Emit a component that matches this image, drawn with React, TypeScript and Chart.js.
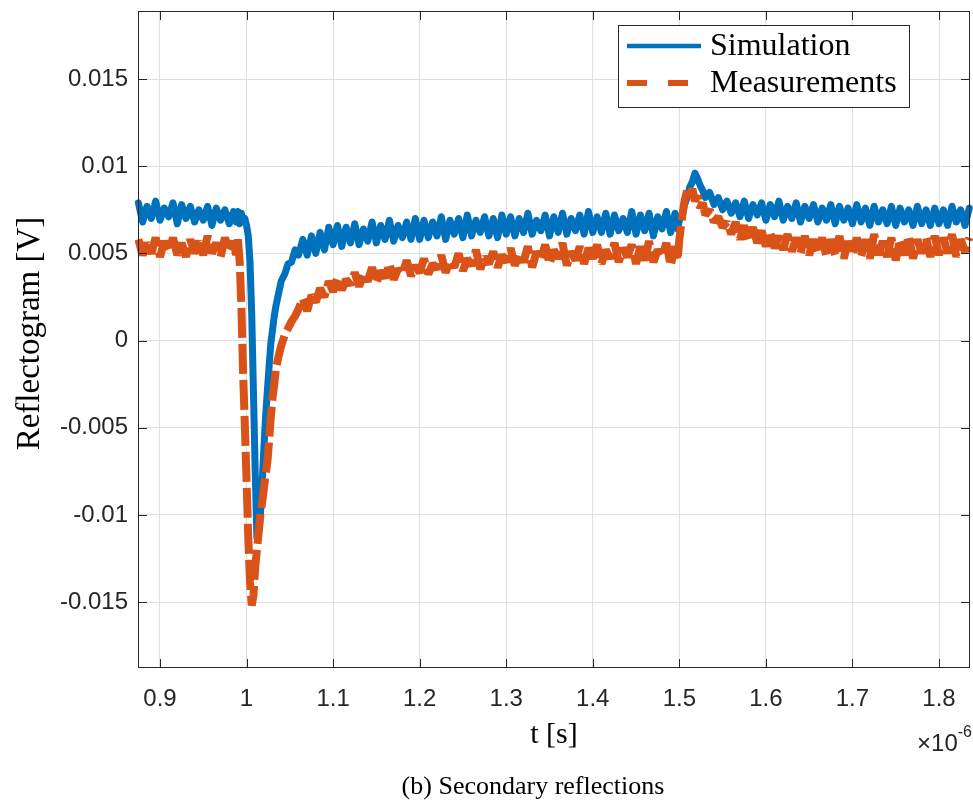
import React, { useEffect, useRef } from "react";
import { Chart, registerables } from "chart.js";

Chart.register(...registerables);

// time axis in microseconds (axis shows ×10^-6 s)
const tMicro = [
  0.875, 0.88, 0.885, 0.89, 0.895, 0.9, 0.905, 0.91, 0.915, 0.92, 0.925, 0.93, 0.935, 0.94, 0.945, 0.95, 0.955, 0.96, 0.965, 0.97, 0.975, 0.98, 0.985,
  0.988, 0.99, 0.992, 0.994, 0.996, 0.998, 1.0, 1.002, 1.004, 1.006, 1.008, 1.01, 1.012, 1.014, 1.016, 1.018, 1.02, 1.022, 1.024, 1.026, 1.028, 1.03, 1.032, 1.034, 1.037, 1.04, 1.044, 1.048, 1.052, 1.056, 1.06,
  1.065, 1.07, 1.075, 1.08, 1.085, 1.09, 1.095, 1.1,
  1.105, 1.11, 1.115, 1.12, 1.125, 1.13, 1.135, 1.14, 1.145, 1.15, 1.155, 1.16, 1.165, 1.17, 1.175, 1.18, 1.185, 1.19, 1.195, 1.2,
  1.205, 1.21, 1.215, 1.22, 1.225, 1.23, 1.235, 1.24, 1.245, 1.25, 1.255, 1.26, 1.265, 1.27, 1.275, 1.28, 1.285, 1.29, 1.295, 1.3,
  1.305, 1.31, 1.315, 1.32, 1.325, 1.33, 1.335, 1.34, 1.345, 1.35, 1.355, 1.36, 1.365, 1.37, 1.375, 1.38, 1.385, 1.39, 1.395, 1.4,
  1.405, 1.41, 1.415, 1.42, 1.425, 1.43, 1.435, 1.44, 1.445, 1.45, 1.455, 1.46, 1.465, 1.47, 1.475, 1.48, 1.485, 1.49, 1.495,
  1.498, 1.5, 1.503, 1.506, 1.509, 1.512, 1.515, 1.518, 1.521, 1.524, 1.527, 1.53, 1.535, 1.54, 1.545, 1.55, 1.555, 1.56,
  1.565, 1.57, 1.575, 1.58, 1.585, 1.59, 1.595, 1.6, 1.605, 1.61, 1.615,
  1.62, 1.625, 1.63, 1.635, 1.64, 1.645, 1.65, 1.655, 1.66,
  1.665, 1.67, 1.675, 1.68, 1.685, 1.69, 1.695, 1.7, 1.705,
  1.71, 1.715, 1.72, 1.725, 1.73, 1.735, 1.74, 1.745, 1.75,
  1.755, 1.76, 1.765, 1.77, 1.775, 1.78, 1.785, 1.79, 1.795,
  1.8, 1.805, 1.81, 1.815, 1.82, 1.825, 1.83, 1.835,
];

// Simulation, in mV
const simMilliV = [
  7.9, 6.8, 7.7, 7.0, 8.0, 6.9, 7.6, 7.1, 7.9, 6.7, 7.8, 7.0, 7.7, 6.8, 7.5, 6.9, 7.7, 6.6, 7.6, 6.9, 7.5, 6.7, 7.4,
  6.8, 7.4, 6.7, 7.3, 6.9, 7.0, 6.6, 6.0, 4.5, 1.5, -3.0, -7.5, -11.3, -10.9, -10.0, -8.2, -6.2, -4.4, -2.9, -1.5, -0.2, 0.6, 1.4, 2.0, 2.7, 3.4, 3.8, 4.4, 4.5, 5.2, 4.9,
  5.8, 4.9, 6.0, 5.0, 6.2, 5.2, 6.5, 5.5,
  6.6, 5.4, 6.5, 5.6, 6.7, 5.5, 6.4, 5.7, 6.8, 5.6, 6.6, 5.8, 6.9, 5.7, 6.6, 5.9, 6.8, 5.8, 7.0, 5.8,
  6.9, 5.9, 6.8, 6.0, 7.1, 5.8, 6.9, 6.1, 7.0, 5.9, 7.2, 6.0, 6.9, 6.2, 7.1, 6.0, 7.0, 5.9, 7.2, 6.1,
  7.1, 6.0, 7.0, 6.2, 7.3, 6.1, 6.9, 6.3, 7.2, 6.0, 7.1, 6.2, 7.3, 6.1, 7.0, 6.3, 7.2, 6.1, 7.4, 6.2,
  7.1, 6.2, 7.3, 6.1, 7.2, 6.3, 7.0, 6.2, 7.4, 6.1, 7.2, 6.3, 7.3, 6.0, 7.1, 6.4, 7.4, 6.2, 7.3,
  6.4, 6.9, 7.2, 7.8, 8.2, 8.8, 9.1, 9.6, 9.3, 8.9, 8.6, 8.2, 8.5, 7.8, 8.2, 7.5, 8.0, 7.3,
  7.9, 7.1, 8.0, 7.0, 7.8, 7.2, 7.9, 6.9, 7.8, 7.1, 8.0,
  6.9, 7.7, 7.0, 7.9, 6.8, 7.7, 7.0, 7.8, 6.8,
  7.6, 6.9, 7.8, 6.7, 7.7, 6.9, 7.6, 6.7, 7.8,
  6.8, 7.6, 6.6, 7.7, 6.8, 7.5, 6.7, 7.7, 6.6,
  7.6, 6.8, 7.5, 6.6, 7.7, 6.7, 7.5, 6.6, 7.6,
  6.7, 7.5, 6.6, 7.7, 6.8, 7.5, 6.6, 7.6,
];

// Measurements, in mV
const measMilliV = [
  5.8, 4.9, 5.6, 5.0, 5.9, 4.8, 5.7, 5.1, 5.9, 4.9, 5.6, 4.8, 5.8, 5.0, 5.7, 4.9, 6.0, 5.0, 5.6, 4.8, 5.9, 5.1, 5.7,
  4.9, 5.8, 4.6, 2.0, -1.8, -4.8, -8.0, -11.3, -13.8, -15.2, -14.6, -13.0, -12.0, -11.0, -10.0, -9.3, -8.5, -7.7, -7.0, -5.8, -4.4, -3.3, -2.5, -1.6, -0.9, -0.3, 0.3, 0.7, 1.1, 1.4, 1.8,
  2.4, 1.7, 2.6, 2.2, 3.0, 2.5, 3.4, 2.8,
  3.6, 2.9, 3.5, 3.2, 3.9, 3.1, 3.8, 3.4, 4.2, 3.3, 4.0, 3.6, 4.4, 3.5, 4.1, 3.8, 4.6, 3.7, 4.3, 3.9,
  4.7, 3.8, 4.4, 4.1, 4.9, 3.9, 4.6, 4.2, 5.0, 4.0, 4.7, 4.3, 5.2, 4.1, 4.8, 4.4, 5.1, 4.2, 4.9, 4.5,
  5.3, 4.3, 5.0, 4.5, 5.4, 4.2, 5.1, 4.6, 5.5, 4.4, 5.2, 4.7, 5.6, 4.3, 5.1, 4.6, 5.4, 4.4, 5.3, 4.7,
  5.5, 4.4, 5.2, 4.7, 5.6, 4.5, 5.3, 4.8, 5.5, 4.4, 5.4, 4.6, 5.7, 4.5, 5.2, 4.8, 5.6, 4.3, 5.4,
  4.6, 5.8, 7.0, 8.0, 8.6, 8.3, 8.7, 8.0, 8.3, 7.6, 7.9, 7.2, 7.5, 6.8, 7.1, 6.5, 6.8, 6.1,
  6.8, 5.8, 6.6, 5.7, 6.5, 5.6, 6.3, 5.4, 6.2, 5.3, 6.0,
  5.2, 6.1, 5.1, 5.9, 5.0, 6.0, 4.9, 5.8, 5.0,
  5.9, 4.8, 5.8, 4.9, 6.0, 4.7, 5.7, 4.9, 5.9,
  4.8, 5.8, 4.7, 6.1, 4.9, 5.7, 4.8, 5.9, 4.6,
  5.8, 4.9, 6.0, 4.7, 5.8, 5.0, 5.9, 4.8, 6.0,
  4.9, 5.9, 5.0, 6.1, 4.8, 5.8, 5.1, 5.9,
];

const seriesLabels = ["Simulation", "Measurements"];
const seriesColors = ["#0072BD", "#D95319"];
const xRange = [0.8746, 1.8358];
const yRange = [-0.01878, 0.0189];
const xTickStep = 0.1;
const yTickStep = 0.005;
const xTitle = "t [s]";
const yTitle = "Reflectogram [V]";
const xExponent = "-6";
const caption = "(b) Secondary reflections";

const SANS = "'Liberation Sans', Arial, sans-serif";
const SERIF = "'Liberation Serif', 'Times New Roman', serif";
const AXIS = "#262626";

const framePlugin = {
  id: "matlabFrame",
  afterDatasetsDraw(chart: any) {
    const { ctx, chartArea: a, scales } = chart;
    ctx.save();
    ctx.strokeStyle = AXIS;
    ctx.lineWidth = 1;
    ctx.strokeRect(a.left + 0.5, a.top + 0.5, a.right - a.left - 1, a.bottom - a.top - 1);
    const L = 9;
    ctx.beginPath();
    scales.x.ticks.forEach((t: any) => {
      const px = Math.round(scales.x.getPixelForValue(t.value)) + 0.5;
      ctx.moveTo(px, a.bottom);
      ctx.lineTo(px, a.bottom - L);
      ctx.moveTo(px, a.top);
      ctx.lineTo(px, a.top + L);
    });
    scales.y.ticks.forEach((t: any) => {
      const py = Math.round(scales.y.getPixelForValue(t.value)) + 0.5;
      ctx.moveTo(a.left, py);
      ctx.lineTo(a.left + L, py);
      ctx.moveTo(a.right, py);
      ctx.lineTo(a.right - L, py);
    });
    ctx.stroke();

    // legend box
    const bx = 618, by = 25, bw = 291, bh = 82;
    ctx.fillStyle = "#ffffff";
    ctx.fillRect(bx, by, bw, bh);
    ctx.strokeStyle = AXIS;
    ctx.lineWidth = 1;
    ctx.strokeRect(bx + 0.5, by + 0.5, bw, bh);
    const rows = [46, 83];
    const legendWidths = [4.5, 6];
    chart.data.datasets.forEach((ds: any, i: number) => {
      const y = rows[i];
      ctx.save();
      ctx.strokeStyle = ds.borderColor;
      ctx.lineWidth = legendWidths[i];
      ctx.lineCap = "butt";
      ctx.setLineDash(ds.borderDash && ds.borderDash.length ? [20, 21] : []);
      ctx.beginPath();
      ctx.moveTo(627, y);
      ctx.lineTo(701, y);
      ctx.stroke();
      ctx.restore();
      ctx.fillStyle = "#000000";
      ctx.font = `32px ${SERIF}`;
      ctx.textAlign = "left";
      ctx.textBaseline = "middle";
      ctx.fillText(ds.label, 710, y + 1);
    });
    ctx.restore();
  },
  afterDraw(chart: any) {
    const { ctx, chartArea: a } = chart;
    ctx.save();
    // y title
    ctx.fillStyle = "#000000";
    ctx.font = `33px ${SERIF}`;
    ctx.textAlign = "center";
    ctx.textBaseline = "middle";
    ctx.save();
    ctx.translate(30, (a.top + a.bottom) / 2 - 6);
    ctx.rotate(-Math.PI / 2);
    ctx.fillText(yTitle, 0, 0);
    ctx.restore();
    // x title
    ctx.font = `30px ${SERIF}`;
    ctx.fillText(xTitle, (a.left + a.right) / 2, 735);
    // exponent
    ctx.fillStyle = AXIS;
    ctx.textAlign = "right";
    ctx.font = `16px ${SANS}`;
    ctx.fillText(xExponent, 972, 733);
    const expW = ctx.measureText(xExponent).width;
    ctx.font = `24px ${SANS}`;
    ctx.fillText("\u00d710", 972 - expW, 744);
    // caption
    ctx.fillStyle = "#000000";
    ctx.textAlign = "center";
    ctx.font = `26px ${SERIF}`;
    ctx.fillText(caption, 533, 787);
    ctx.restore();
  },
};

export default function App() {
  const ref = useRef<HTMLCanvasElement | null>(null);
  useEffect(() => {
    if (!ref.current) return;
    const sim = tMicro.map((t, i) => ({ x: t, y: simMilliV[i] / 1000 }));
    const meas = tMicro.map((t, i) => ({ x: t, y: measMilliV[i] / 1000 }));
    const chart = new Chart(ref.current, {
      type: "line",
      data: {
        datasets: [
          {
            label: seriesLabels[0],
            data: sim,
            borderColor: seriesColors[0],
            backgroundColor: seriesColors[0],
            borderWidth: 7,
            borderJoinStyle: "round",
            borderCapStyle: "round",
            pointRadius: 0,
            tension: 0,
            order: 1,
            clip: 3,
          },
          {
            label: seriesLabels[1],
            data: meas,
            borderColor: seriesColors[1],
            backgroundColor: seriesColors[1],
            borderWidth: 8,
            borderDash: [30, 6],
            borderJoinStyle: "bevel",
            borderCapStyle: "butt",
            pointRadius: 0,
            tension: 0,
            order: 0,
            clip: 3,
          },
        ],
      } as any,
      options: {
        responsive: false,
        animation: false,
        events: [],
        layout: { padding: { top: 11, right: 3, left: 0, bottom: 0 } },
        plugins: { legend: { display: false }, tooltip: { enabled: false }, title: { display: false } },
        scales: {
          x: {
            type: "linear",
            min: xRange[0],
            max: xRange[1],
            border: { display: false },
            grid: { color: "#dfdfdf", lineWidth: 1, drawTicks: false },
            ticks: {
              stepSize: xTickStep,
              includeBounds: false,
              autoSkip: false,
              maxRotation: 0,
              padding: 17,
              color: AXIS,
              font: { family: SANS, size: 24 },
              callback: (v: any) => Number(Number(v).toFixed(2)).toString(),
            },
            afterFit: (s: any) => {
              s.height = 135;
              s.paddingLeft = 0;
              s.paddingRight = 0;
            },
          },
          y: {
            type: "linear",
            min: yRange[0],
            max: yRange[1],
            border: { display: false },
            grid: { color: "#dfdfdf", lineWidth: 1, drawTicks: false },
            ticks: {
              stepSize: yTickStep,
              includeBounds: false,
              autoSkip: false,
              padding: 10,
              color: AXIS,
              font: { family: SANS, size: 24 },
              callback: (v: any) => Number(Number(v).toFixed(3)).toString(),
            },
            afterFit: (s: any) => {
              s.width = 138;
              s.paddingTop = 0;
              s.paddingBottom = 0;
            },
          },
        },
      } as any,
      plugins: [framePlugin],
    });
    return () => chart.destroy();
  }, []);
  return (
    <div style={{ position: "fixed", left: 0, top: 0, width: 973, height: 803, background: "#ffffff" }}>
      <canvas ref={ref} width={973} height={803} style={{ display: "block" }} />
    </div>
  );
}
